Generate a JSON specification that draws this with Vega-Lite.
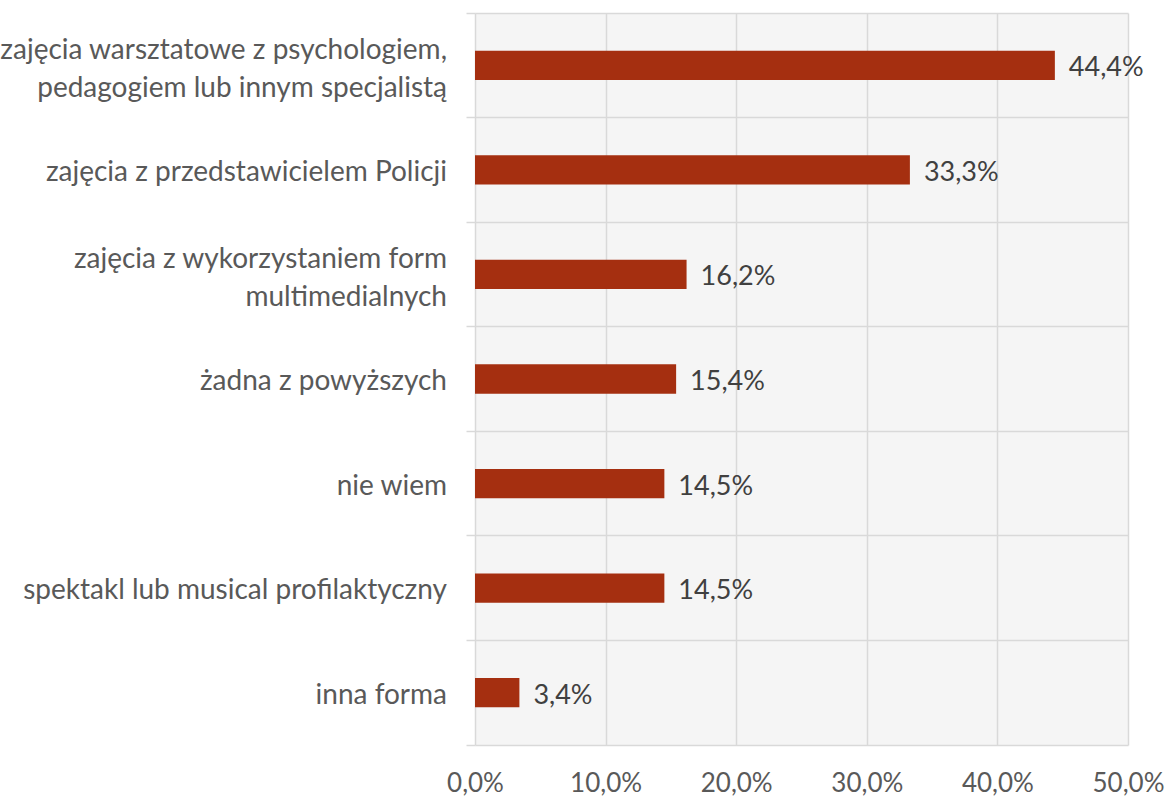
{
  "$schema": "https://vega.github.io/schema/vega-lite/v6.json",
  "autosize": "none",
  "width": 653,
  "height": 732,
  "padding": {"left": 475, "top": 13, "right": 40, "bottom": 54},
  "background": "white",
  "config": {
    "view": {"fill": "#f5f5f5", "stroke": null},
    "font": "Lato"
  },
  "data": {
    "values": [
      {"category": "zajęcia warsztatowe z psychologiem,|pedagogiem lub innym specjalistą", "value": 0.444},
      {"category": "zajęcia z przedstawicielem Policji", "value": 0.333},
      {"category": "zajęcia z wykorzystaniem form|multimedialnych", "value": 0.162},
      {"category": "żadna z powyższych", "value": 0.154},
      {"category": "nie wiem", "value": 0.145},
      {"category": "spektakl lub musical profilaktyczny", "value": 0.145},
      {"category": "inna forma", "value": 0.034}
    ]
  },
  "transform": [
    {"calculate": "replace(format(datum.value, '.1%'), '.', ',')", "as": "label"},
    {"calculate": "split(datum.category, '|')", "as": "lines"},
    {"calculate": "length(datum.lines)", "as": "nlines"}
  ],
  "encoding": {
    "y": {
      "field": "category",
      "type": "nominal",
      "sort": null,
      "scale": {
        "paddingInner": 0,
        "paddingOuter": 0,
        "domain": [
          "zajęcia warsztatowe z psychologiem,|pedagogiem lub innym specjalistą",
          "zajęcia z przedstawicielem Policji",
          "zajęcia z wykorzystaniem form|multimedialnych",
          "żadna z powyższych",
          "nie wiem",
          "spektakl lub musical profilaktyczny",
          "inna forma"
        ]
      },
      "axis": {
        "title": null,
        "domain": false,
        "labels": false,
        "bandPosition": 1,
        "tickExtra": true,
        "ticks": true,
        "tickSize": 9,
        "tickColor": "#d9d9d9",
        "tickWidth": 1.5,
        "grid": true,
        "gridColor": "#d9d9d9",
        "gridWidth": 1.5
      }
    }
  },
  "layer": [
    {
      "mark": {"type": "bar", "color": "#a52f10", "height": {"band": 0.28}},
      "encoding": {
        "x": {
          "field": "value",
          "type": "quantitative",
          "scale": {"domain": [0, 0.5], "nice": false},
          "axis": {
            "title": null,
            "values": [0, 0.1, 0.2, 0.3, 0.4, 0.5],
            "labelExpr": "replace(format(datum.value, '.1%'), '.', ',')",
            "labelFlush": false,
            "domain": false,
            "ticks": false,
            "grid": true,
            "gridColor": "#d9d9d9",
            "gridWidth": 1.5,
            "labelFont": "Lato",
            "labelFontSize": 26,
            "labelColor": "#595959",
            "labelPadding": 25
          }
        }
      }
    },
    {
      "mark": {"type": "text", "align": "left", "baseline": "middle", "dx": 14, "dy": 3, "fontSize": 27, "font": "Lato", "color": "#404040"},
      "encoding": {
        "x": {"field": "value", "type": "quantitative"},
        "text": {"field": "label"}
      }
    },
    {
      "transform": [{"filter": "datum.nlines == 1"}],
      "mark": {"type": "text", "align": "right", "baseline": "middle", "dx": -28, "dy": 3, "fontSize": 28, "font": "Lato", "color": "#595959"},
      "encoding": {
        "x": {"datum": 0, "type": "quantitative"},
        "text": {"field": "category"}
      }
    },
    {
      "transform": [{"filter": "datum.nlines == 2"}],
      "mark": {"type": "text", "align": "right", "baseline": "middle", "dx": -28, "dy": -14, "lineHeight": 38, "fontSize": 28, "font": "Lato", "color": "#595959"},
      "encoding": {
        "x": {"datum": 0, "type": "quantitative"},
        "text": {"field": "lines"}
      }
    }
  ]
}
